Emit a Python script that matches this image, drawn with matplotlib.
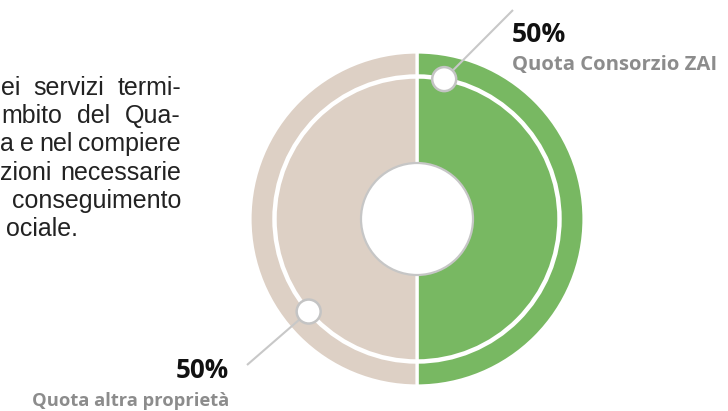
import matplotlib
matplotlib.use("Agg")
import matplotlib.pyplot as plt
from matplotlib.patches import Circle
import numpy as np

# ---- data ----
categories = ["Quota Consorzio ZAI", "Quota altra proprietà"]
shares = [50, 50]
share_labels = ["50%", "50%"]
colors = ["#78b862", "#ddd0c5"]

body_lines = [
    ["ei", "servizi", "termi-"],
    ["mbito", "del", "Qua-"],
    ["a", "e", "nel", "compiere"],
    ["zioni", "necessarie"],
    ["conseguimento"],
    ["ociale."],
]

W, H = 728, 411
fig = plt.figure(figsize=(W / 100, H / 100), dpi=100)
ax = fig.add_axes([0, 0, 1, 1])

def Y(y):
    return H - y

cx, cy = 417, Y(219)
R = 167

ax.pie(shares, colors=colors, startangle=90, counterclock=False,
       center=(cx, cy), radius=R,
       wedgeprops=dict(edgecolor="white", linewidth=2.3))

# white ring inside the donut
ax.add_patch(Circle((cx, cy), 142.5, facecolor="none", edgecolor="white", linewidth=3.2, zorder=3))
# center hole
ax.add_patch(Circle((cx, cy), 56, facecolor="white", edgecolor="#c6c6c6", linewidth=1.6, zorder=4))

# callouts
ring_r = 142.5
callouts = [(79, (513, 10)), (220.5, (247, 365))]
for ang, (ex, ey) in callouts:
    mx = cx + ring_r * np.cos(np.radians(ang))
    my = cy + ring_r * np.sin(np.radians(ang))
    ax.plot([mx, ex], [my, Y(ey)], color="#c8c8c8", lw=1.5, zorder=5, solid_capstyle="butt")
    ax.add_patch(Circle((mx, my), 12, facecolor="white", edgecolor="#c4c4c4", linewidth=1.8, zorder=6))

ax.set_xlim(0, W)
ax.set_ylim(0, H)
ax.set_aspect("equal")
ax.axis("off")

fig.canvas.draw()
renderer = fig.canvas.get_renderer()

def fit_text(x, y, s, target_w, size0, **kw):
    t = ax.text(x, y, s, fontsize=size0, **kw)
    w = t.get_window_extent(renderer).width
    t.set_fontsize(size0 * target_w / w)
    return t

lab_font = "Open Sans"
fit_text(512, Y(42), share_labels[0], 54, 18, fontweight="bold", color="#111111",
         family=lab_font, ha="left", va="baseline")
fit_text(512, Y(70), categories[0], 206, 14, fontweight="bold", color="#8c8c8c",
         family=lab_font, ha="left", va="baseline")
fit_text(229, Y(378), share_labels[1], 53, 18, fontweight="bold", color="#111111",
         family=lab_font, ha="right", va="baseline")
fit_text(229, Y(406), categories[1], 198, 14, fontweight="bold", color="#8c8c8c",
         family=lab_font, ha="right", va="baseline")

# body text (justified, cut at the left edge)
body_font = dict(fontsize=18, color="#222222", family="Liberation Sans", va="baseline")
lefts = [1, 1, 0, 0, None, 6]
right = 181
for i, words in enumerate(body_lines):
    yb = Y(95 + 28.2 * i)
    left = lefts[i]
    if left is None:
        ax.text(right, yb, " ".join(words), ha="right", **body_font)
        continue
    if len(words) == 1:
        ax.text(left, yb, words[0], ha="left", **body_font)
        continue
    ts = [ax.text(0, yb, w, ha="left", **body_font) for w in words]
    widths = [t.get_window_extent(renderer).width for t in ts]
    gap = (right - left - sum(widths)) / (len(words) - 1)
    x = left
    for t, w in zip(ts, widths):
        t.set_x(x)
        x += w + gap

fig.savefig("out.png", dpi=100)
